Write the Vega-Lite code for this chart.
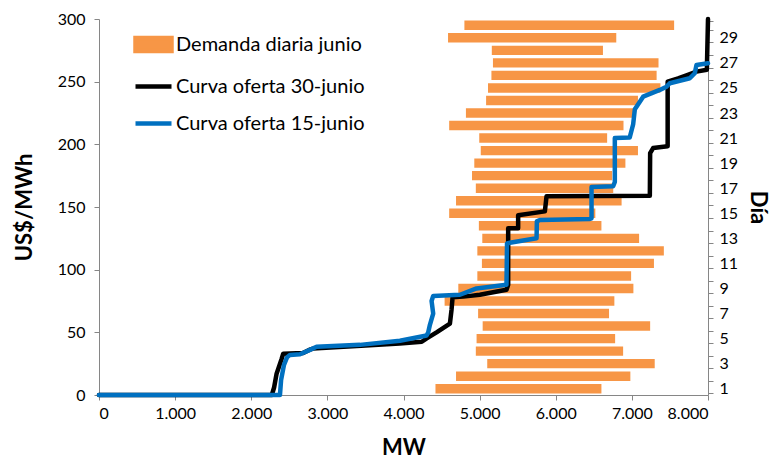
{
  "$schema": "https://vega.github.io/schema/vega-lite/v6.json",
  "width": 609,
  "height": 376,
  "autosize": "none",
  "padding": {"left": 99, "top": 19, "right": 72, "bottom": 66},
  "background": "white",
  "config": {
    "font": "Lato",
    "view": {"stroke": null},
    "legend": {"title": null, "labelLimit": 400},
    "axis": {
      "grid": false,
      "domainColor": "#868686",
      "tickColor": "#868686",
      "tickSize": 5,
      "labelColor": "#000000",
      "labelFontSize": 16,
      "titleColor": "#000000",
      "titleFontSize": 22,
      "titleFontWeight": "bold"
    }
  },
  "datasets": {
    "demanda": [
      {"dia": 1, "min": 4420, "max": 6600},
      {"dia": 2, "min": 4690, "max": 6980},
      {"dia": 3, "min": 5100, "max": 7300},
      {"dia": 4, "min": 4950, "max": 6885},
      {"dia": 5, "min": 4960, "max": 6780},
      {"dia": 6, "min": 5040, "max": 7240},
      {"dia": 7, "min": 4980, "max": 6700},
      {"dia": 8, "min": 4540, "max": 6770},
      {"dia": 9, "min": 4720, "max": 7020},
      {"dia": 10, "min": 4970, "max": 6990},
      {"dia": 11, "min": 5030, "max": 7290},
      {"dia": 12, "min": 4970, "max": 7420},
      {"dia": 13, "min": 5035, "max": 7095},
      {"dia": 14, "min": 4990, "max": 6600},
      {"dia": 15, "min": 4600, "max": 6520},
      {"dia": 16, "min": 4690, "max": 6865},
      {"dia": 17, "min": 4950, "max": 6755},
      {"dia": 18, "min": 4900, "max": 6740},
      {"dia": 19, "min": 4930, "max": 6915},
      {"dia": 20, "min": 5015, "max": 7080},
      {"dia": 21, "min": 4995, "max": 6675},
      {"dia": 22, "min": 4600, "max": 6890},
      {"dia": 23, "min": 4820, "max": 7020},
      {"dia": 24, "min": 5085, "max": 7080},
      {"dia": 25, "min": 5110, "max": 7375},
      {"dia": 26, "min": 5155, "max": 7325},
      {"dia": 27, "min": 5175, "max": 7350},
      {"dia": 28, "min": 5160, "max": 6620},
      {"dia": 29, "min": 4585, "max": 6795},
      {"dia": 30, "min": 4800, "max": 7555}
    ],
    "oferta": [
      {"serie": "Curva oferta 30-junio", "i": 1, "mw": 0, "precio": 0},
      {"serie": "Curva oferta 30-junio", "i": 2, "mw": 2270, "precio": 0},
      {"serie": "Curva oferta 30-junio", "i": 3, "mw": 2300, "precio": 6},
      {"serie": "Curva oferta 30-junio", "i": 4, "mw": 2333, "precio": 17},
      {"serie": "Curva oferta 30-junio", "i": 5, "mw": 2400, "precio": 29},
      {"serie": "Curva oferta 30-junio", "i": 6, "mw": 2420, "precio": 33},
      {"serie": "Curva oferta 30-junio", "i": 7, "mw": 2680, "precio": 33.5},
      {"serie": "Curva oferta 30-junio", "i": 8, "mw": 2760, "precio": 36},
      {"serie": "Curva oferta 30-junio", "i": 9, "mw": 2810, "precio": 37},
      {"serie": "Curva oferta 30-junio", "i": 10, "mw": 3500, "precio": 39.5},
      {"serie": "Curva oferta 30-junio", "i": 11, "mw": 3950, "precio": 41},
      {"serie": "Curva oferta 30-junio", "i": 12, "mw": 4240, "precio": 42.5},
      {"serie": "Curva oferta 30-junio", "i": 13, "mw": 4300, "precio": 45},
      {"serie": "Curva oferta 30-junio", "i": 14, "mw": 4434, "precio": 50},
      {"serie": "Curva oferta 30-junio", "i": 15, "mw": 4610, "precio": 57},
      {"serie": "Curva oferta 30-junio", "i": 16, "mw": 4631, "precio": 68},
      {"serie": "Curva oferta 30-junio", "i": 17, "mw": 4645, "precio": 78},
      {"serie": "Curva oferta 30-junio", "i": 18, "mw": 4784, "precio": 78.5},
      {"serie": "Curva oferta 30-junio", "i": 19, "mw": 5003, "precio": 80},
      {"serie": "Curva oferta 30-junio", "i": 20, "mw": 5353, "precio": 84},
      {"serie": "Curva oferta 30-junio", "i": 21, "mw": 5375, "precio": 88},
      {"serie": "Curva oferta 30-junio", "i": 22, "mw": 5375, "precio": 133},
      {"serie": "Curva oferta 30-junio", "i": 23, "mw": 5506, "precio": 133},
      {"serie": "Curva oferta 30-junio", "i": 24, "mw": 5506, "precio": 143.5},
      {"serie": "Curva oferta 30-junio", "i": 25, "mw": 5857, "precio": 146.5},
      {"serie": "Curva oferta 30-junio", "i": 26, "mw": 5879, "precio": 158.5},
      {"serie": "Curva oferta 30-junio", "i": 27, "mw": 7236, "precio": 159},
      {"serie": "Curva oferta 30-junio", "i": 28, "mw": 7240, "precio": 193},
      {"serie": "Curva oferta 30-junio", "i": 29, "mw": 7279, "precio": 197},
      {"serie": "Curva oferta 30-junio", "i": 30, "mw": 7470, "precio": 198.5},
      {"serie": "Curva oferta 30-junio", "i": 31, "mw": 7470, "precio": 250},
      {"serie": "Curva oferta 30-junio", "i": 32, "mw": 7607, "precio": 252.6},
      {"serie": "Curva oferta 30-junio", "i": 33, "mw": 7717, "precio": 255},
      {"serie": "Curva oferta 30-junio", "i": 34, "mw": 7849, "precio": 258},
      {"serie": "Curva oferta 30-junio", "i": 35, "mw": 7985, "precio": 259.5},
      {"serie": "Curva oferta 30-junio", "i": 36, "mw": 8000, "precio": 300},
      {"serie": "Curva oferta 15-junio", "i": 1, "mw": 0, "precio": 0},
      {"serie": "Curva oferta 15-junio", "i": 2, "mw": 2377, "precio": 0},
      {"serie": "Curva oferta 15-junio", "i": 3, "mw": 2392, "precio": 12},
      {"serie": "Curva oferta 15-junio", "i": 4, "mw": 2430, "precio": 24},
      {"serie": "Curva oferta 15-junio", "i": 5, "mw": 2470, "precio": 30},
      {"serie": "Curva oferta 15-junio", "i": 6, "mw": 2508, "precio": 32},
      {"serie": "Curva oferta 15-junio", "i": 7, "mw": 2640, "precio": 32.5},
      {"serie": "Curva oferta 15-junio", "i": 8, "mw": 2771, "precio": 36},
      {"serie": "Curva oferta 15-junio", "i": 9, "mw": 2858, "precio": 38.5},
      {"serie": "Curva oferta 15-junio", "i": 10, "mw": 3428, "precio": 40},
      {"serie": "Curva oferta 15-junio", "i": 11, "mw": 3953, "precio": 43.3},
      {"serie": "Curva oferta 15-junio", "i": 12, "mw": 4303, "precio": 47.5},
      {"serie": "Curva oferta 15-junio", "i": 13, "mw": 4325, "precio": 50},
      {"serie": "Curva oferta 15-junio", "i": 14, "mw": 4347, "precio": 56},
      {"serie": "Curva oferta 15-junio", "i": 15, "mw": 4390, "precio": 65},
      {"serie": "Curva oferta 15-junio", "i": 16, "mw": 4369, "precio": 75},
      {"serie": "Curva oferta 15-junio", "i": 17, "mw": 4390, "precio": 79},
      {"serie": "Curva oferta 15-junio", "i": 18, "mw": 4741, "precio": 80},
      {"serie": "Curva oferta 15-junio", "i": 19, "mw": 4960, "precio": 85},
      {"serie": "Curva oferta 15-junio", "i": 20, "mw": 5353, "precio": 88},
      {"serie": "Curva oferta 15-junio", "i": 21, "mw": 5360, "precio": 121},
      {"serie": "Curva oferta 15-junio", "i": 22, "mw": 5397, "precio": 121.5},
      {"serie": "Curva oferta 15-junio", "i": 23, "mw": 5748, "precio": 125},
      {"serie": "Curva oferta 15-junio", "i": 24, "mw": 5752, "precio": 138.5},
      {"serie": "Curva oferta 15-junio", "i": 25, "mw": 5791, "precio": 139.6},
      {"serie": "Curva oferta 15-junio", "i": 26, "mw": 6448, "precio": 140.5},
      {"serie": "Curva oferta 15-junio", "i": 27, "mw": 6470, "precio": 141},
      {"serie": "Curva oferta 15-junio", "i": 28, "mw": 6470, "precio": 166},
      {"serie": "Curva oferta 15-junio", "i": 29, "mw": 6754, "precio": 166.5},
      {"serie": "Curva oferta 15-junio", "i": 30, "mw": 6776, "precio": 170},
      {"serie": "Curva oferta 15-junio", "i": 31, "mw": 6776, "precio": 205},
      {"serie": "Curva oferta 15-junio", "i": 32, "mw": 6972, "precio": 205.5},
      {"serie": "Curva oferta 15-junio", "i": 33, "mw": 7017, "precio": 216},
      {"serie": "Curva oferta 15-junio", "i": 34, "mw": 7039, "precio": 228},
      {"serie": "Curva oferta 15-junio", "i": 35, "mw": 7148, "precio": 238},
      {"serie": "Curva oferta 15-junio", "i": 36, "mw": 7367, "precio": 243.4},
      {"serie": "Curva oferta 15-junio", "i": 37, "mw": 7455, "precio": 246},
      {"serie": "Curva oferta 15-junio", "i": 38, "mw": 7498, "precio": 248.7},
      {"serie": "Curva oferta 15-junio", "i": 39, "mw": 7761, "precio": 252.7},
      {"serie": "Curva oferta 15-junio", "i": 40, "mw": 7826, "precio": 256.7},
      {"serie": "Curva oferta 15-junio", "i": 41, "mw": 7849, "precio": 263.3},
      {"serie": "Curva oferta 15-junio", "i": 42, "mw": 8000, "precio": 264.7}
    ]
  },
  "layer": [
    {
      "data": {"name": "demanda"},
      "mark": {"type": "bar", "color": "#F79646"},
      "encoding": {
        "x": {
          "field": "min",
          "type": "quantitative",
          "scale": {"domain": [0, 8000], "nice": false, "zero": false},
          "axis": {
            "title": "MW",
            "values": [0, 1000, 2000, 3000, 4000, 5000, 6000, 7000, 8000],
            "labelExpr": "replace(format(datum.value, ','), ',', '.')",
            "labelPadding": 5,
            "titlePadding": 16
          }
        },
        "x2": {"field": "max"},
        "y": {
          "field": "dia",
          "type": "ordinal",
          "sort": "descending",
          "scale": {"paddingInner": 0.25, "paddingOuter": 0.125},
          "axis": {
            "orient": "right",
            "title": "Día",
            "tickBand": "extent",
            "labelAngle": 0,
            "labelPadding": 6,
            "titlePadding": 8,
            "labelExpr": "datum.value % 2 == 1 ? datum.label : ''"
          }
        },
        "color": {
          "datum": "Demanda diaria junio",
          "scale": {
            "domain": ["Demanda diaria junio", "Curva oferta 30-junio", "Curva oferta 15-junio"],
            "range": ["#F79646", "#000000", "#0070C0"]
          },
          "legend": {
            "title": null,
            "orient": "none",
            "legendX": 34,
            "legendY": 5,
            "padding": 0,
            "symbolSize": 1296,
            "symbolStrokeWidth": 4.5,
            "labelFontSize": 20,
            "labelLimit": 400,
            "labelColor": "#000000",
            "labelOffset": 2,
            "rowPadding": 6,
            "encode": {
              "symbols": {
                "update": {
                  "shape": {"signal": "datum.value === 'Demanda diaria junio' ? 'M-1,-0.36H1V0.36H-1Z' : 'stroke'"},
                  "fill": {"signal": "datum.value === 'Demanda diaria junio' ? '#F79646' : 'transparent'"},
                  "stroke": {"signal": "datum.value === 'Demanda diaria junio' ? 'transparent' : (datum.value === 'Curva oferta 30-junio' ? '#000000' : '#0070C0')"},
                  "strokeWidth": {"value": 4.5},
                  "opacity": {"value": 1}
                }
              }
            }
          }
        }
      }
    },
    {
      "data": {"name": "oferta"},
      "mark": {"type": "line", "strokeWidth": 4.5, "strokeJoin": "round", "strokeCap": "round"},
      "encoding": {
        "x": {"field": "mw", "type": "quantitative"},
        "y": {
          "field": "precio",
          "type": "quantitative",
          "scale": {"domain": [0, 300], "nice": false},
          "axis": {
            "title": "US$/MWh",
            "values": [0, 50, 100, 150, 200, 250, 300],
            "labelPadding": 9,
            "titlePadding": 21
          }
        },
        "color": {"field": "serie", "type": "nominal", "legend": {"title": null}},
        "order": {"field": "i", "type": "quantitative"}
      }
    }
  ],
  "resolve": {"scale": {"y": "independent"}, "axis": {"y": "independent"}}
}
